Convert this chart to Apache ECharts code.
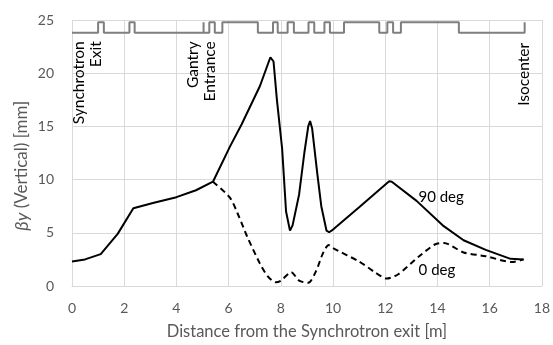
<!DOCTYPE html>
<html><head><meta charset="utf-8">
<script src="https://cdn.jsdelivr.net/npm/echarts@6/dist/echarts.min.js"></script>
<style>html,body{margin:0;padding:0;background:#fff}#c{width:553px;height:345px}</style>
</head><body><div id="c"></div>
<script>
// ---- data ----
const dist90 = [0,0.5,1.1,1.75,2.35,3.1,4.0,4.75,5.4,6.05,6.5,7.2,7.6,7.72,7.85,8.05,8.2,8.35,8.45,8.7,8.9,9.05,9.12,9.2,9.4,9.55,9.75,9.85,10.0,11.0,12.15,12.25,13.2,14.2,15.0,15.85,16.8,17.3];
const beta90 = [2.3,2.5,3.0,4.9,7.3,7.8,8.35,9.0,9.8,13.1,15.2,18.8,21.5,21.1,17.5,12.9,7.0,5.2,5.7,8.6,12.5,15.0,15.5,14.8,10.5,7.5,5.2,5.05,5.3,7.4,9.85,9.8,8.0,5.7,4.3,3.4,2.55,2.5];
const dist0 = [5.4,6.05,6.4,6.7,7.2,7.5,7.8,8.0,8.4,8.7,9.05,9.35,9.6,9.83,10.0,11.0,11.6,12.05,12.5,13.3,13.9,14.25,15.0,15.85,16.85,17.3];
const beta0 = [9.8,8.3,6.5,4.7,2.1,0.9,0.35,0.5,1.3,0.5,0.3,1.4,3.0,3.85,3.55,2.3,1.3,0.7,1.1,2.8,3.9,4.05,3.15,2.8,2.25,2.5];
// beam-line elements (start, end) in m; zero width = thin marker
const elemStart = [1.0,2.2,5.04,5.26,5.76,7.7,8.26,9.06,9.67,10.42,12.08,12.6];
const elemEnd   = [1.22,2.4,5.04,5.47,7.12,7.88,8.5,9.28,9.88,11.77,12.3,14.82];
const lineEnd = 17.34;
const stripBase = 23.8, stripTop = 24.8;
const seriesNames = ['90 deg','0 deg'];
const seriesLabelPos = [[14.14,8.33],[13.98,1.48]];
const annoText = ['Synchrotron\nExit','Gantry\nEntrance','Isocenter'];
const annoPos = [[0.58,23.0],[4.97,23.0],[17.31,22.85]];
const xTicks = {min:0,max:18,interval:2};
const yTicks = {min:0,max:25,interval:5};
const yTitleValue = 11.3;

// ---- build ----
const strip = [[0,stripBase]];
for (let i=0;i<elemStart.length;i++){
  strip.push([elemStart[i],stripBase],[elemStart[i],stripTop],[elemEnd[i],stripTop],[elemEnd[i],stripBase]);
}
strip.push([lineEnd,stripBase],[lineEnd,stripTop]);

const FONT = 'Lato';
const chart = echarts.init(document.getElementById('c'));
chart.setOption({
  animation:false,
  grid:{left:72,right:10,top:20,bottom:55},
  xAxis:{type:'value',min:xTicks.min,max:xTicks.max,interval:xTicks.interval,
    name:'Distance from the Synchrotron exit [m]',nameLocation:'middle',nameGap:37,
    nameTextStyle:{fontFamily:FONT,fontSize:16.5,color:'#595959'},
    axisLine:{lineStyle:{color:'#d9d9d9',width:1}},axisTick:{show:false},
    axisLabel:{fontFamily:FONT,fontSize:14,color:'#595959',margin:15},
    splitLine:{show:true,lineStyle:{color:'#d9d9d9',width:1}}},
  yAxis:{type:'value',min:yTicks.min,max:yTicks.max,interval:yTicks.interval,
    axisLine:{show:false},axisTick:{show:false},
    axisLabel:{fontFamily:FONT,fontSize:14,color:'#595959',margin:18},
    splitLine:{lineStyle:{color:'#d9d9d9',width:1}}},
  series:[
    {type:'line',data:strip,symbol:'none',lineStyle:{color:'#7f7f7f',width:2},z:3},
    {type:'line',name:seriesNames[1],data:dist0.map((d,i)=>[d,beta0[i]]),symbol:'none',smooth:0.25,
      lineStyle:{color:'#000',width:2,type:[6,4]},z:4},
    {type:'line',name:seriesNames[0],data:dist90.map((d,i)=>[d,beta90[i]]),symbol:'none',
      lineStyle:{color:'#000',width:2},z:5}
  ]
});
const g = [];
annoText.forEach((t,i)=>{
  const p = chart.convertToPixel({gridIndex:0},annoPos[i]);
  g.push({type:'text',x:p[0],y:p[1],rotation:Math.PI/2,
    style:{text:t,fontFamily:FONT,fontSize:15.5,fill:'#000',align:'right',verticalAlign:'middle',lineHeight:17}});
});
seriesNames.forEach((t,i)=>{
  const p = chart.convertToPixel({gridIndex:0},seriesLabelPos[i]);
  g.push({type:'text',x:p[0],y:p[1],
    style:{text:t,fontFamily:FONT,fontSize:15,fill:'#000',align:'center',verticalAlign:'middle'}});
});
const yt = chart.convertToPixel({gridIndex:0},[0,yTitleValue]);
g.push({type:'text',x:22,y:yt[1],rotation:Math.PI/2,
  style:{text:'{i|βy} (Vertical) [mm]',fontFamily:FONT,fontSize:17,fill:'#595959',align:'center',verticalAlign:'middle',
    rich:{i:{fontStyle:'italic',fontFamily:FONT,fontSize:18,fill:'#595959'}}}});
chart.setOption({graphic:g});
</script></body></html>
